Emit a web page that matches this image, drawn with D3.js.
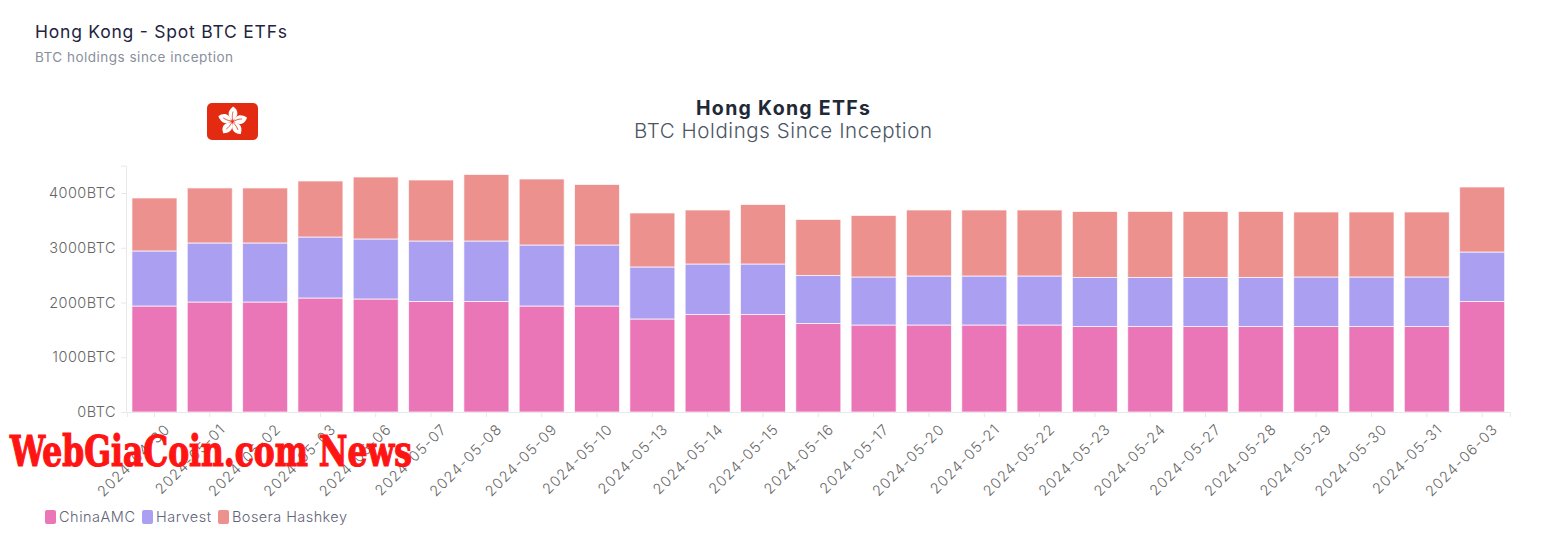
<!DOCTYPE html>
<html>
<head>
<meta charset="utf-8">
<script src="https://cdn.jsdelivr.net/npm/d3@7"></script>
<style>
  html, body { margin: 0; padding: 0; background: #fff; }
  svg { display: block; font-family: Inter, "Noto Sans", sans-serif; }
</style>
</head>
<body>
<svg id="chart" width="1568" height="535"></svg>
<script>
// chart data
const dates = ["2024-04-30","2024-05-01","2024-05-02","2024-05-03","2024-05-06","2024-05-07","2024-05-08","2024-05-09","2024-05-10","2024-05-13","2024-05-14","2024-05-15","2024-05-16","2024-05-17","2024-05-20","2024-05-21","2024-05-22","2024-05-23","2024-05-24","2024-05-27","2024-05-28","2024-05-29","2024-05-30","2024-05-31","2024-06-03"];
const chinaAMC = [1936,2009,2009,2082,2064,2018,2018,1936,1936,1699,1781,1781,1616,1589,1589,1589,1589,1562,1562,1562,1562,1562,1562,1562,2018];
const harvest = [1005,1078,1078,1114,1096,1105,1105,1114,1114,950,922,922,877,877,895,895,895,895,895,895,895,904,904,904,904];
const bosera = [968,1005,1005,1023,1132,1114,1215,1205,1105,986,986,1087,1023,1123,1205,1205,1205,1205,1205,1205,1205,1187,1187,1187,1187];
const seriesNames = ["ChinaAMC", "Harvest", "Bosera Hashkey"];
const seriesColors = ["#ea76b7", "#ab9ff2", "#ed918f"];
const yTicks = [0, 1000, 2000, 3000, 4000];

const svg = d3.select("svg#chart");

// stacked rows
const rows = dates.map((d, i) => ({ date: d, "ChinaAMC": chinaAMC[i], "Harvest": harvest[i], "Bosera Hashkey": bosera[i] }));
const stacked = d3.stack().keys(seriesNames)(rows);

const x = d3.scaleBand().domain(dates).range([126.8, 1509.8]).paddingInner(0.186).paddingOuter(0.093);
const y = d3.scaleLinear().domain([0, 4500]).range([412, 165.6]);

// bars
svg.append("g").selectAll("g")
    .data(stacked)
    .join("g")
    .attr("fill", (d, i) => seriesColors[i])
    .selectAll("rect")
    .data(d => d)
    .join("rect")
    .attr("x", d => x(d.data.date))
    .attr("y", d => y(d[1]))
    .attr("width", x.bandwidth())
    .attr("height", d => y(d[0]) - y(d[1]))
    .attr("stroke", "#fff")
    .attr("stroke-opacity", 0.7)
    .attr("stroke-width", 1);

// x axis
const xAxis = svg.append("g")
    .attr("transform", "translate(0,412)")
    .call(d3.axisBottom(x).tickSize(5).tickPadding(5));
xAxis.select(".domain").attr("stroke", "#e8e8e8");
xAxis.selectAll(".tick line").attr("stroke", "#e8e8e8");
xAxis.selectAll("text")
    .attr("fill", "#666")
    .style("font-size", "14.5px")
    .style("font-family", "Inter, sans-serif")
    .style("font-weight", 300)
    .style("letter-spacing", "1.1px")
    .attr("text-anchor", "end")
    .attr("dx", "-1px")
    .attr("dy", "14.5px")
    .attr("transform", "rotate(-45)");

// y axis
const yAxis = svg.append("g")
    .attr("transform", "translate(126,0)")
    .call(d3.axisLeft(y).tickValues(yTicks).tickSize(5).tickPadding(5).tickFormat(d => d + "BTC"));
yAxis.select(".domain").attr("stroke", "#e8e8e8");
yAxis.selectAll(".tick line").attr("stroke", "#e8e8e8");
yAxis.selectAll("text")
    .attr("fill", "#666")
    .style("font-size", "14.5px")
    .style("font-family", "Inter, sans-serif")
    .style("font-weight", 300)
    .style("letter-spacing", "0.45px");

// titles
const addText = (txt, px, py, size, fill, opts = {}) => svg.append("text")
    .text(txt)
    .attr("x", px)
    .attr("y", py)
    .attr("fill", fill)
    .attr("font-size", size)
    .attr("font-weight", opts.weight || 400)
    .attr("text-anchor", opts.anchor || "start")
    .attr("textLength", opts.len || null);

addText("Hong Kong - Spot BTC ETFs", 35, 38, 17.5, "#1f2440", { len: 252 });
addText("BTC holdings since inception", 35, 62, 13.5, "#8a8f9c", { len: 198 });
addText("Hong Kong ETFs", 783, 115, 19.5, "#1f2937", { weight: 700, anchor: "middle", len: 174 });
addText("BTC Holdings Since Inception", 783, 138, 20.5, "#4b5563", { weight: 300, anchor: "middle", len: 298 });

// flag badge
const flag = svg.append("g").attr("transform", "translate(232.5,121.5)");
flag.append("rect")
    .attr("x", -25.5).attr("y", -18.5)
    .attr("width", 51).attr("height", 37)
    .attr("rx", 5)
    .attr("fill", "#e32b12");
d3.range(5).forEach(i => {
    const petal = flag.append("g").attr("transform", `rotate(${i * 72 + 6})`);
    petal.append("path")
        .attr("d", "M0,-1 C-5,-4 -7,-9 -1,-15 C5,-12 6,-6 0,-1 Z")
        .attr("fill", "#fff");
    petal.append("path")
        .attr("d", "M0,-1 C-1,-5 -1,-7 -0.5,-10")
        .attr("fill", "none")
        .attr("stroke", "#e32b12")
        .attr("stroke-width", 0.7);
});

// legend
let legendX = 45;
const legendStep = [97, 76, 0];
const legendLen = [76, 55, 115];
seriesNames.forEach((name, i) => {
    svg.append("rect")
        .attr("x", legendX).attr("y", 510)
        .attr("width", 11).attr("height", 14)
        .attr("rx", 2)
        .attr("fill", seriesColors[i]);
    addText(name, legendX + 14, 522, 14.5, "#5f6478", { len: legendLen[i], weight: 300 });
    legendX += legendStep[i];
});

// watermark over the chart
svg.append("text")
    .text("WebGiaCoin.com News")
    .attr("x", 10)
    .attr("y", 466)
    .attr("fill", "#ff1414")
    .attr("stroke", "#ff1414")
    .attr("stroke-width", 1.2)
    .attr("font-family", "'DejaVu Serif Condensed', 'DejaVu Serif', serif")
    .attr("font-weight", 700)
    .attr("font-size", 42)
    .attr("textLength", 402)
    .attr("lengthAdjust", "spacingAndGlyphs");
</script>
</body>
</html>
